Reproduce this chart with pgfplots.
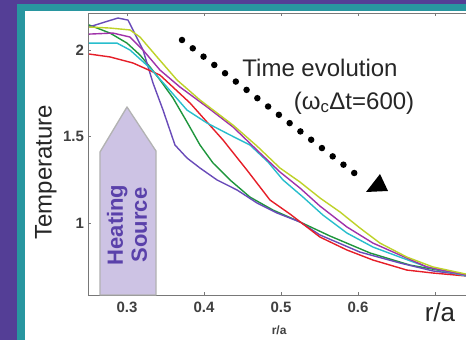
\documentclass[border=0pt]{standalone}
\usepackage{pgfplots}
\pgfplotsset{compat=1.18}
\usepackage{fontspec}
\setmainfont{Liberation Sans}
\definecolor{bgpurple}{RGB}{84,62,150}
\definecolor{bgteal}{RGB}{40,150,160}
\definecolor{cviolet}{RGB}{105,75,185}
\definecolor{cyellow}{RGB}{190,210,40}
\definecolor{cmagenta}{RGB}{160,50,170}
\definecolor{ccyan}{RGB}{40,190,205}
\definecolor{cgreen}{RGB}{30,150,60}
\definecolor{cred}{RGB}{230,30,40}
\definecolor{srcfill}{RGB}{205,195,228}
\definecolor{srctext}{RGB}{90,65,170}
\definecolor{axgray}{RGB}{120,120,120}
\begin{document}
\begin{tikzpicture}[x=1pt,y=1pt]
\begin{scope}[shift={(-88.5,-45)}]
\fill[bgpurple] (0,0) rectangle (466,340);
\fill[bgteal] (17,0) rectangle (466,336);
\fill[white] (25,0) rectangle (466,329);
\end{scope}
\begin{axis}[
  scale only axis, width=377.5pt, height=282pt,
  xmin=0.25, xmax=0.7403, ymin=0.584, ymax=2.214,
  separate axis lines,
  axis x line*=box, axis y line*=left,
  axis line style={axgray, line width=0.8pt, -},
  tick style={axgray, line width=0.8pt},
  major tick length=3pt,
  tick align=inside,
  xtick={0.3,0.4,0.5,0.6,0.7},
  xticklabels={0.3,0.4,0.5,0.6,{}},
  ytick={1,1.5,2},
  yticklabels={1,1.5,2},
  /pgf/number format/assume math mode=true,
  tick label style={font=\fontsize{15}{17}\selectfont\bfseries, text=black!75},
  xticklabel style={yshift=-3pt},
  yticklabel style={xshift=-1pt},
  xlabel={r/a},
  xlabel style={at={(axis description cs:0.505,-0.124)}, anchor=center, font=\fontsize{12}{14}\selectfont\bfseries, text=black!75},
  ylabel={Temperature},
  ylabel style={at={(axis description cs:-0.113,0.436)}, anchor=center, font=\fontsize{24}{28}\selectfont, text=black!85},
  every axis plot/.append style={line width=1.4pt, mark=none, line join=round},
]
\addplot[cgreen] coordinates {(0.2506,2.145)(0.2779,2.098)(0.3,2.040)(0.3169,1.971)(0.3299,1.902)(0.3429,1.827)(0.3597,1.723)(0.3779,1.584)(0.3948,1.451)(0.4117,1.347)(0.4338,1.249)(0.4597,1.150)(0.4896,1.075)(0.5247,1.006)(0.5636,0.925)(0.6156,0.827)(0.6675,0.757)(0.7403,0.699)};
\addplot[cviolet] coordinates {(0.2506,2.133)(0.2714,2.162)(0.2883,2.185)(0.3013,2.173)(0.3078,2.116)(0.3208,2.000)(0.3338,1.809)(0.3468,1.653)(0.3623,1.451)(0.3779,1.376)(0.3948,1.318)(0.4169,1.249)(0.4429,1.191)(0.4688,1.116)(0.4948,1.058)(0.5247,1.006)(0.5506,0.931)(0.6026,0.832)(0.6545,0.769)(0.6974,0.723)(0.7403,0.699)};
\addplot[cred] coordinates {(0.2506,1.977)(0.2779,1.960)(0.3078,1.925)(0.3429,1.855)(0.3818,1.694)(0.4247,1.480)(0.4558,1.306)(0.4857,1.133)(0.5117,1.052)(0.5506,0.919)(0.5857,0.844)(0.6195,0.786)(0.6636,0.728)(0.6974,0.711)(0.7403,0.694)};
\addplot[ccyan] coordinates {(0.2506,2.040)(0.2870,2.040)(0.3039,2.0)(0.3299,1.896)(0.3519,1.786)(0.3779,1.653)(0.4039,1.578)(0.4338,1.509)(0.4597,1.451)(0.4831,1.353)(0.5026,1.249)(0.5286,1.150)(0.5545,1.046)(0.5857,0.942)(0.6195,0.861)(0.6545,0.803)(0.6896,0.746)(0.7403,0.694)};
\addplot[cmagenta] coordinates {(0.2506,2.092)(0.2818,2.098)(0.3039,2.075)(0.3208,2.0)(0.3429,1.884)(0.3688,1.786)(0.4039,1.671)(0.4377,1.555)(0.4727,1.405)(0.4987,1.295)(0.5247,1.202)(0.5506,1.098)(0.5857,0.977)(0.6195,0.884)(0.6545,0.815)(0.6896,0.746)(0.7403,0.699)};
\addplot[cyellow] coordinates {(0.2506,2.133)(0.2779,2.127)(0.3039,2.116)(0.3169,2.075)(0.3390,1.960)(0.3649,1.827)(0.3948,1.711)(0.4377,1.566)(0.4688,1.445)(0.4987,1.318)(0.5247,1.237)(0.5506,1.145)(0.5766,1.064)(0.6026,0.971)(0.6286,0.884)(0.6636,0.803)(0.6974,0.746)(0.7403,0.705)};
\end{axis}
\begin{scope}[shift={(-88.5,-45)}]
% heating source arrow
\filldraw[fill=srcfill, draw=black!30, line width=1.3pt, line join=round]
  (100,45) -- (100,188) -- (127,233) -- (156,189) -- (156,45) -- cycle;
\node[rotate=90, align=center, text=srctext, font=\fontsize{22}{24}\selectfont\bfseries] at (127,115) {Heating\\Source};
% time evolution annotation
\draw[black, line width=6.5pt, line cap=round, dash pattern=on 0pt off 13.6pt] (182,300) -- (362,161);
\fill[black] (366,148) -- (388,149) -- (380,166) -- cycle;
\node[font=\fontsize{24}{28}\selectfont, text=black!85] at (320,272) {Time evolution};
\node[font=\fontsize{24}{28}\selectfont, text=black!85] at (354,237) {(ω\textsubscript{c}Δt=600)};
\node[font=\fontsize{26}{30}\selectfont, text=black!85] at (440,28) {r/a};
\end{scope}
\pgfresetboundingbox
\useasboundingbox (-88.5,-45) rectangle (377.5,295);
\end{tikzpicture}
\end{document}
